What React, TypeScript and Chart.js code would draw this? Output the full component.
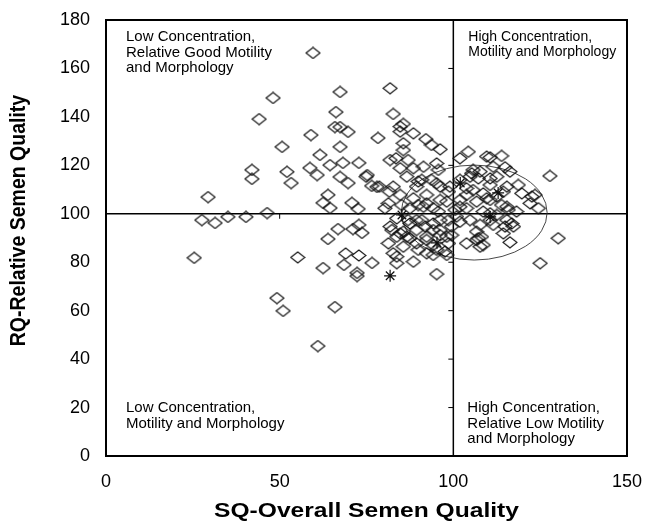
import React, { useEffect, useRef } from "react";
import { Chart, registerables } from "chart.js";

Chart.register(...registerables);

// SQ (x) values of the diamonds
const sqValues = [
  59.6, 67.4, 48.1, 44.1, 66.2, 65.9, 67.4, 69.7, 59.0, 50.7, 67.4, 78.3, 61.6, 64.5, 68.2, 72.8,
  42.0, 42.0, 52.1, 53.3, 58.7, 60.8, 67.4, 69.7, 75.2, 78.0, 29.4, 63.9, 62.5, 64.5, 70.8, 72.6,
  27.6, 31.4, 35.1, 40.3, 46.4, 66.8, 71.1, 73.7, 72.8, 63.9, 55.2, 25.4, 69.0, 62.5, 72.8, 68.5,
  76.6, 72.3, 72.3, 49.2, 51.0, 65.9, 61.0, 81.8, 82.7, 84.7, 85.6, 88.5, 84.7, 85.6, 85.6, 92.1,
  93.7, 96.2, 74.9, 76.5, 78.7, 81.8, 83.5, 87.0, 84.7, 88.5, 86.6, 95.2, 95.7, 90.9, 93.7, 82.7,
  81.6, 84.7, 89.4, 92.3, 96.2, 98.6, 104.3, 101.9, 81.3, 80.3, 85.1, 89.9, 94.2, 98.1, 81.8, 82.3,
  84.7, 83.7, 86.6, 87.5, 89.4, 91.9, 94.2, 96.2, 98.6, 99.5, 98.1, 89.4, 92.3, 89.9, 92.3, 95.2,
  97.6, 82.7, 81.3, 83.7, 88.5, 95.2, 127.8, 130.2, 125.0, 109.6, 110.6, 113.9, 105.7, 107.7, 111.5, 114.9,
  104.8, 110.6, 112.5, 116.3, 115.4, 118.7, 119.7, 122.6, 123.5, 124.5, 122.1, 118.2, 116.8, 114.9, 111.5, 106.7,
  107.2, 107.7, 108.6, 103.8, 116.3, 101.9, 103.8, 105.7, 108.6, 109.6, 112.5, 113.9, 115.4, 101.9, 103.8, 108.6,
  110.6, 91.4, 89.9, 95.2, 99.0, 101.9, 105.3, 107.2, 103.8, 110.6, 114.4, 101.9, 106.7, 110.6, 88.5, 92.3,
  96.2, 87.5, 91.4, 95.7, 100.5, 112.5, 115.8, 87.0, 90.9, 96.2, 100.9, 104.8, 110.6, 115.4, 117.3, 85.6,
  89.4, 94.2, 107.7, 83.7, 87.5, 92.3, 96.2, 99.5, 108.1, 114.4, 85.6, 94.2, 98.6, 106.7, 83.7, 94.2,
  98.1,
];

// RQ (y) values of the diamonds
const rqValues = [
  166.4, 150.3, 147.8, 139.1, 142.0, 135.8, 135.8, 133.8, 132.5, 127.6, 127.6, 131.3, 124.3, 120.1, 121.0, 121.0,
  118.1, 114.4, 117.3, 112.7, 118.9, 116.0, 115.2, 112.7, 116.0, 111.1, 106.9, 107.8, 104.5, 102.4, 104.5, 102.0,
  97.4, 96.2, 98.7, 98.7, 100.3, 93.7, 93.7, 92.1, 95.4, 89.6, 82.0, 81.8, 83.6, 77.6, 82.8, 78.9,
  79.7, 75.6, 74.3, 65.2, 59.9, 61.5, 45.4, 151.8, 141.2, 136.0, 137.1, 133.2, 133.9, 129.1, 126.3, 130.8,
  128.4, 126.6, 115.3, 111.5, 111.2, 122.2, 122.9, 122.2, 118.8, 118.8, 115.3, 120.8, 118.1, 114.0, 114.0, 111.2,
  109.1, 107.8, 111.2, 107.8, 111.2, 109.1, 125.6, 122.9, 104.3, 102.3, 103.6, 103.6, 102.3, 105.0, 94.7, 93.3,
  91.9, 98.1, 90.5, 96.0, 97.4, 94.7, 96.0, 93.3, 97.4, 94.7, 90.5, 87.8, 89.2, 85.1, 83.7, 85.1,
  84.4, 83.7, 87.8, 79.6, 80.2, 75.1, 115.6, 89.9, 79.6, 123.6, 123.3, 123.9, 118.1, 117.4, 119.4, 119.2,
  115.3, 114.6, 115.3, 117.4, 111.2, 111.9, 108.4, 107.1, 107.8, 102.3, 104.3, 100.9, 96.0, 94.7, 95.4, 92.6,
  89.9, 86.4, 87.1, 87.8, 88.2, 96.7, 107.8, 109.8, 108.4, 106.4, 107.1, 103.6, 102.9, 102.9, 102.3, 100.9,
  100.2, 119.4, 113.3, 112.6, 111.2, 114.0, 116.7, 114.6, 110.5, 111.9, 109.1, 105.7, 105.0, 105.7, 106.4, 104.3,
  105.7, 102.3, 102.9, 100.9, 101.6, 99.5, 101.6, 97.4, 97.4, 97.4, 98.8, 97.4, 97.4, 97.4, 94.7, 92.6,
  93.3, 93.3, 95.4, 90.5, 89.9, 90.5, 91.2, 91.2, 90.5, 91.9, 86.4, 87.1, 87.8, 89.2, 82.3, 83.0,
  83.0,
];

// asterisk markers
const starSQ = [81.8, 95.3, 85.2, 102.0, 112.9, 110.6];
const starRQ = [74.4, 88.0, 99.5, 112.7, 108.6, 98.7];

const xTicks = [0, 50, 100, 150];
const yTicks = [0, 20, 40, 60, 80, 100, 120, 140, 160, 180];

const dividerSQ = 100;
const dividerRQ = 100;

// reference ellipse (centre and semi-axes, data units)
const ellipseCenter = [106, 100.5];
const ellipseRadii = [21, 19.6];

const labelTopLeft = ["Low Concentration,", "Relative Good Motility", "and Morphology"];
const labelTopRight = ["High Concentration,", "Motility and Morphology"];
const labelBottomLeft = ["Low Concentration,", "Motility and Morphology"];
const labelBottomRight = ["High Concentration,", "Relative Low Motility", "and Morphology"];

const xTitle = "SQ-Overall Semen Quality";
const yTitle = "RQ-Relative Semen Quality";

const FONT = '"Liberation Sans", Arial, Helvetica, sans-serif';

function makeDiamond(): HTMLCanvasElement {
  const c = document.createElement("canvas");
  c.width = 16;
  c.height = 13;
  const g = c.getContext("2d")!;
  g.strokeStyle = "#111";
  g.lineWidth = 1.1;
  g.beginPath();
  g.moveTo(1, 6.5);
  g.lineTo(8, 1);
  g.lineTo(15, 6.5);
  g.lineTo(8, 12);
  g.closePath();
  g.stroke();
  return c;
}

const overlayPlugin = {
  id: "overlay",
  beforeDatasetsDraw(chart: any) {
    const { ctx, chartArea: a, scales } = chart;
    const x = scales.x;
    const y = scales.y;
    const px = x.getPixelForValue(dividerSQ);
    const py = y.getPixelForValue(dividerRQ);
    ctx.save();
    const line = (x1: number, y1: number, x2: number, y2: number) => {
      ctx.beginPath();
      ctx.moveTo(x1, y1);
      ctx.lineTo(x2, y2);
      ctx.stroke();
    };
    ctx.strokeStyle = "#000";
    ctx.lineWidth = 1.5;
    line(px, a.top, px, a.bottom);
    line(a.left, py, a.right, py);
    ctx.lineWidth = 1;
    for (const v of yTicks) {
      if (v > yTicks[0] && v < yTicks[yTicks.length - 1] && v !== dividerRQ) {
        const yy = y.getPixelForValue(v);
        line(px - 5, yy, px, yy);
      }
    }
    for (const v of xTicks) {
      if (v > xTicks[0] && v < xTicks[xTicks.length - 1] && v !== dividerSQ) {
        const xx = x.getPixelForValue(v);
        line(xx, py, xx, py + 5);
      }
    }
    // ellipse
    const cx = x.getPixelForValue(ellipseCenter[0]);
    const cy = y.getPixelForValue(ellipseCenter[1]);
    const rx = Math.abs(x.getPixelForValue(ellipseCenter[0] + ellipseRadii[0]) - cx);
    const ry = Math.abs(y.getPixelForValue(ellipseCenter[1] + ellipseRadii[1]) - cy);
    ctx.strokeStyle = "#333";
    ctx.lineWidth = 0.9;
    ctx.beginPath();
    ctx.ellipse(cx, cy, rx, ry, 0, 0, Math.PI * 2);
    ctx.stroke();
    // quadrant labels
    ctx.fillStyle = "#000";
    ctx.textBaseline = "middle";
    ctx.textAlign = "left";
    const lh = 15.5;
    const block = (lines: string[], x0: number, y0: number, size: number) => {
      ctx.font = `${size}px ${FONT}`;
      lines.forEach((t, i) => ctx.fillText(t, x0, y0 + i * lh));
    };
    block(labelTopLeft, a.left + 20, a.top + 17, 15);
    block(labelTopRight, px + 15, a.top + 17, 14);
    block(labelBottomLeft, a.left + 20, a.bottom - 48, 15);
    block(labelBottomRight, px + 14, a.bottom - 48, 15);
    ctx.restore();
  },
  afterDraw(chart: any) {
    const { ctx, chartArea: a } = chart;
    ctx.save();
    ctx.strokeStyle = "#000";
    ctx.lineWidth = 2;
    ctx.strokeRect(a.left, a.top, a.right - a.left, a.bottom - a.top);
    ctx.fillStyle = "#000";
    ctx.textAlign = "center";
    ctx.textBaseline = "middle";
    // x-axis title (slightly widened, as in the source figure)
    ctx.save();
    ctx.translate((a.left + a.right) / 2, 511);
    ctx.scale(1.2, 1);
    ctx.font = `bold 20.5px ${FONT}`;
    ctx.fillText(xTitle, 0, 0);
    ctx.restore();
    // y-axis title
    ctx.save();
    ctx.translate(19, a.top + (a.bottom - a.top) * 0.46);
    ctx.scale(1.15, 1);
    ctx.rotate(-Math.PI / 2);
    ctx.font = `bold 19.5px ${FONT}`;
    ctx.fillText(yTitle, 0, 0);
    ctx.restore();
    ctx.restore();
  },
};

export default function App() {
  const ref = useRef<HTMLCanvasElement | null>(null);
  useEffect(() => {
    if (!ref.current) return;
    const diamond = makeDiamond();
    const chart = new Chart(ref.current, {
      type: "scatter",
      data: {
        datasets: [
          {
            label: "subjects",
            data: sqValues.map((v, i) => ({ x: v, y: rqValues[i] })),
            pointStyle: diamond as any,
            pointRadius: 7,
            borderColor: "#111",
            backgroundColor: "rgba(0,0,0,0)",
          },
          {
            label: "marked",
            data: starSQ.map((v, i) => ({ x: v, y: starRQ[i] })),
            pointStyle: "star",
            pointRadius: 6,
            borderWidth: 1.2,
            borderColor: "#111",
            backgroundColor: "rgba(0,0,0,0)",
          },
        ],
      },
      options: {
        responsive: false,
        animation: false,
        events: [],
        layout: { padding: { top: 20, right: 19, left: 0, bottom: 0 } },
        plugins: {
          legend: { display: false },
          tooltip: { enabled: false },
        },
        scales: {
          x: {
            type: "linear",
            min: xTicks[0],
            max: xTicks[xTicks.length - 1],
            afterBuildTicks: (s: any) => {
              s.ticks = xTicks.map((v) => ({ value: v }));
            },
            grid: { display: false, drawTicks: false },
            border: { display: false },
            ticks: {
              padding: 15,
              color: "#000",
              font: { family: FONT, size: 18 },
              maxRotation: 0,
            },
            title: { display: false },
            afterFit: (s: any) => {
              s.height = 69;
              s.paddingLeft = 0;
              s.paddingRight = 0;
            },
          },
          y: {
            type: "linear",
            min: yTicks[0],
            max: yTicks[yTicks.length - 1],
            afterBuildTicks: (s: any) => {
              s.ticks = yTicks.map((v) => ({ value: v }));
            },
            grid: { display: false, drawTicks: false },
            border: { display: false },
            ticks: {
              padding: 16,
              color: "#000",
              font: { family: FONT, size: 18 },
            },
            title: { display: false },
            afterFit: (s: any) => {
              s.width = 106;
              s.paddingTop = 0;
              s.paddingBottom = 0;
            },
          },
        },
      },
      plugins: [overlayPlugin],
    });
    return () => chart.destroy();
  }, []);
  return (
    <div style={{ position: "absolute", left: 0, top: 0, width: 646, height: 525, background: "#fff" }}>
      <canvas ref={ref} width={646} height={525} />
    </div>
  );
}
